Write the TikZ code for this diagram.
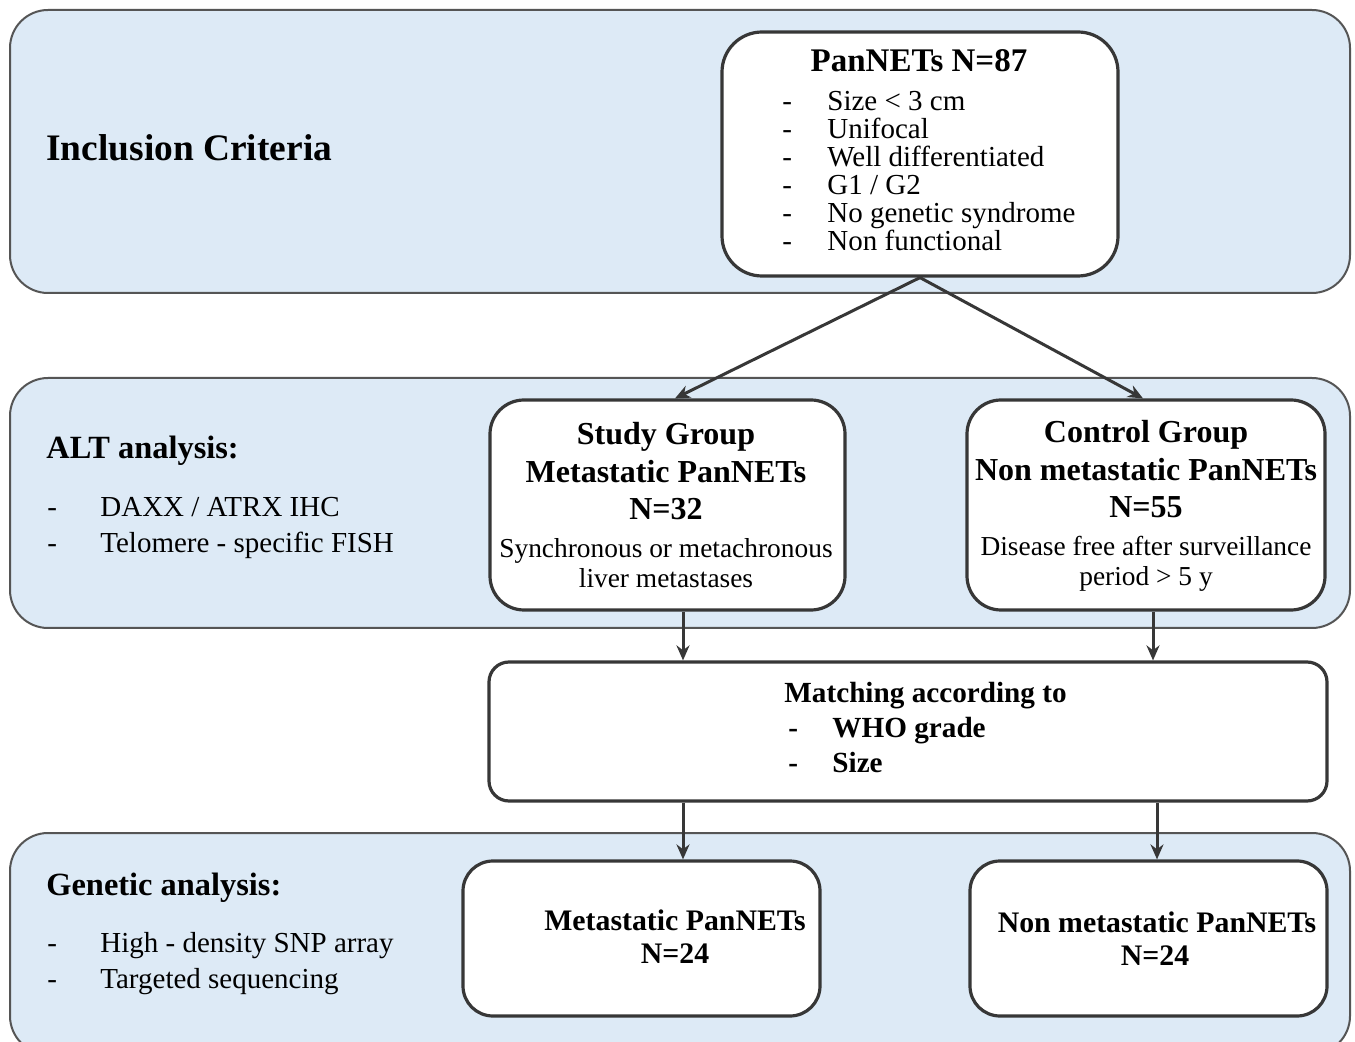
\documentclass[tikz,border=0pt]{standalone}
\usepackage{fontspec}
\setmainfont{Liberation Serif}
\usetikzlibrary{arrows.meta}
\definecolor{bandblue}{RGB}{221,234,246}
\definecolor{edgec}{RGB}{55,55,55}
\definecolor{bandedge}{RGB}{85,85,85}
\begin{document}
\begin{tikzpicture}[x=0.5pt,y=-0.5pt,
  band/.style={draw=bandedge, line width=1pt, fill=bandblue, rounded corners=19pt},
  box/.style={draw=edgec, line width=1.6pt, fill=white, inner sep=0pt},
  arr/.style={draw=edgec, line width=1.5pt, -{Stealth[length=7.5pt,width=6.5pt]}},
  txt/.style={inner sep=0pt, text=black},
  hbig/.style={txt, anchor=base west, font=\fontsize{18.7}{20}\selectfont\bfseries},
  hsec/.style={txt, anchor=base west, font=\fontsize{16.2}{18}\selectfont\bfseries},
  item/.style={txt, anchor=base west, font=\fontsize{14.5}{16}\selectfont},
  btitle/.style={txt, anchor=base, font=\fontsize{16}{18}\selectfont\bfseries},
  bsub/.style={txt, anchor=base, font=\fontsize{13.7}{15}\selectfont},
  mtxt/.style={txt, anchor=base west, font=\fontsize{14.6}{16}\selectfont\bfseries},
  gtitle/.style={txt, anchor=base, font=\fontsize{14.9}{17}\selectfont\bfseries}
]
\clip (0,0) rectangle (1355,1042);
\fill[white] (0,0) rectangle (1355,1042);

% bands
\draw[band] (10,10) rectangle (1350,293);
\draw[band] (10,378) rectangle (1350,628);
\draw[band] (10,833) rectangle (1350,1054);

% band texts
\node[hbig] (incl) at (46,161) {Inclusion Criteria};
\node[hsec] (alt) at (46,459) {ALT analysis:};
\node[item] (altd1) at (47,517) {-};
\node[item] (alt1) at (100,517) {DAXX / ATRX IHC};
\node[item] (altd2) at (47,553) {-};
\node[item] (alt2) at (100,553) {Telomere - specific FISH};
\node[hsec] (gen) at (46,895) {Genetic analysis:};
\node[item] (gend1) at (47,952) {-};
\node[item] (gen1) at (100,952) {High - density SNP array};
\node[item] (gend2) at (47,988) {-};
\node[item] (gen2) at (100,988) {Targeted sequencing};

% boxes
\node[box, minimum width=198pt, minimum height=122pt, rounded corners=20pt] (pan) at (920,154) {};
\node[box, minimum width=177.5pt, minimum height=105pt, rounded corners=17pt] (study) at (667.5,505) {};
\node[box, minimum width=179pt, minimum height=105pt, rounded corners=17pt] (ctrl) at (1146,505) {};
\node[box, minimum width=419pt, minimum height=69.5pt, rounded corners=10pt] (match) at (908,731.5) {};
\node[box, minimum width=178.5pt, minimum height=77.5pt, rounded corners=15pt] (meta) at (641.5,938.5) {};
\node[box, minimum width=178.5pt, minimum height=77.5pt, rounded corners=15pt] (nmeta) at (1148.5,938.5) {};

% PanNETs text
\node[txt, anchor=base, font=\fontsize{16.5}{18}\selectfont\bfseries] (pant) at (919,72) {PanNETs N=87};
\foreach \t [count=\i] in {Size < 3 cm, Unifocal, Well differentiated, G1 / G2, No genetic syndrome, Non functional} {
  \pgfmathsetmacro{\yy}{111+28*(\i-1)}
  \node[item] (pand\i) at (782,\yy) {-};
  \node[item] (pani\i) at (827,\yy) {\t};
}

% study text
\node[btitle] (st1) at (666,445) {Study Group};
\node[btitle] (st2) at (666,483) {Metastatic PanNETs};
\node[btitle] (st3) at (666,520) {N=32};
\node[bsub] (st4) at (666,558) {Synchronous or metachronous};
\node[bsub] (st5) at (666,588) {liver metastases};

% control text
\node[btitle] (ct1) at (1146,443) {Control Group};
\node[btitle] (ct2) at (1146,481) {Non metastatic PanNETs};
\node[btitle] (ct3) at (1146,518) {N=55};
\node[bsub] (ct4) at (1146,556) {Disease free after surveillance};
\node[bsub] (ct5) at (1146,586) {period > 5 y};

% matching text
\node[mtxt] (mt1) at (784,703) {Matching according to};
\node[mtxt] (md2) at (788,737) {-};
\node[mtxt] (mt2) at (832,737) {WHO grade};
\node[mtxt] (md3) at (788,772) {-};
\node[mtxt] (mt3) at (832,772) {Size};

% genetic boxes text
\node[gtitle] (gm1) at (675,930) {Metastatic PanNETs};
\node[gtitle] (gm2) at (675,963) {N=24};
\node[gtitle] (gn1) at (1157,932) {Non metastatic PanNETs};
\node[gtitle] (gn2) at (1155,965) {N=24};

% connectors
\coordinate (xa) at (675,0);
\coordinate (xb) at (1143,0);
\coordinate (xc) at (683,0);
\coordinate (xd) at (1153,0);
\coordinate (xe) at (683,0);
\coordinate (xf) at (1157,0);
\draw[arr] (pan.south) -- (study.north -| xa);
\draw[arr] (pan.south) -- (ctrl.north -| xb);
\draw[arr] (study.south -| xc) -- (match.north -| xc);
\draw[arr] (ctrl.south -| xd) -- (match.north -| xd);
\draw[arr] (match.south -| xe) -- (meta.north -| xe);
\draw[arr] (match.south -| xf) -- (nmeta.north -| xf);
\end{tikzpicture}
\end{document}
